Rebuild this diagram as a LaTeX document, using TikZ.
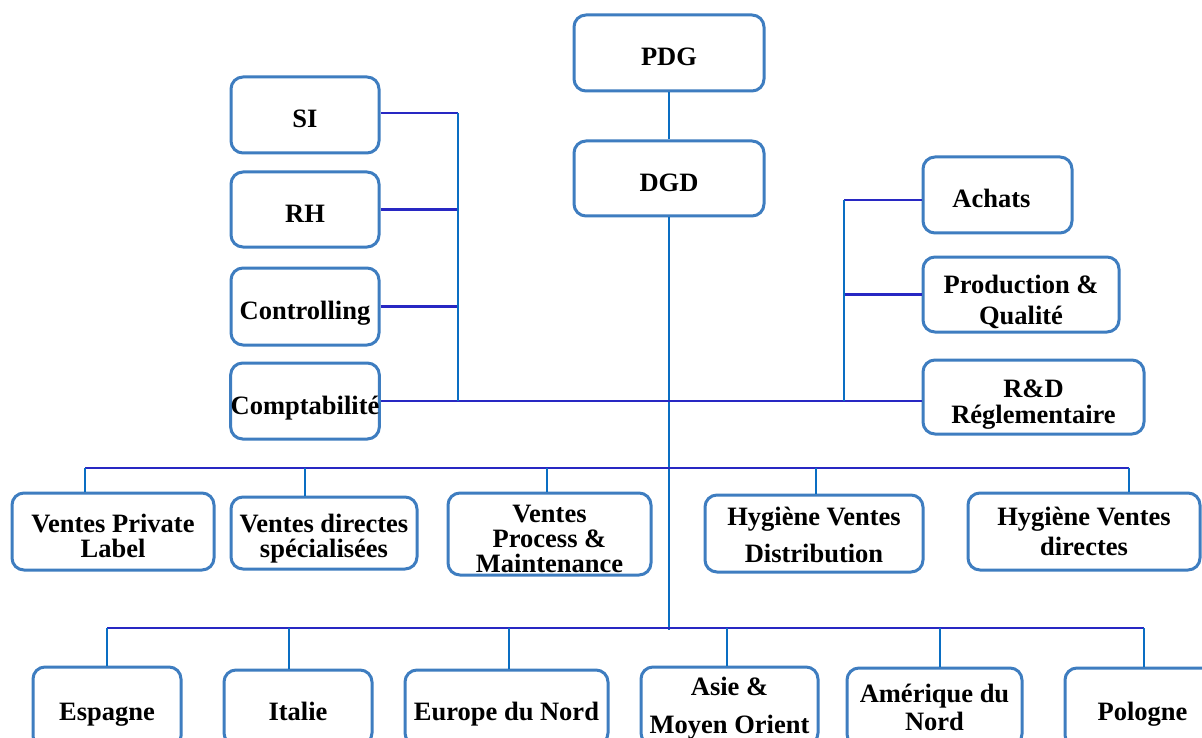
\documentclass[tikz,border=0pt]{standalone}
\usepackage{fontspec}
\setmainfont{Liberation Serif}
\definecolor{boxblue}{RGB}{62,125,192}
\definecolor{busblue}{RGB}{40,40,195}
\definecolor{stemblue}{RGB}{10,110,195}
\tikzset{
  unit/.style={draw=boxblue, line width=3pt, rounded corners=12pt, fill=white,
    inner sep=0pt, align=center, text height=26pt, text depth=0pt,
    font=\bfseries\fontsize{26.5}{25}\selectfont},
  hbar/.style={draw=busblue, line width=2.7pt},
  vbar/.style={draw=stemblue, line width=2.5pt},
}
\begin{document}
\begin{tikzpicture}[x=1pt,y=-1pt]
\clip (0,0) rectangle (1202,738);
\fill[white] (0,0) rectangle (1202,738);

% top of the hierarchy
\node[unit, minimum width=190, minimum height=76] (pdg) at (669,53) {PDG};
\node[unit, minimum width=190, minimum height=75] (dgd) at (669,178.5) {DGD};

% support functions on the left
\node[unit, minimum width=148, minimum height=76] (si) at (305,115) {SI};
\node[unit, minimum width=148, minimum height=75] (rh) at (305,209.5) {RH};
\node[unit, minimum width=148, minimum height=77] (ctrl) at (305,306.5) {Controlling};
\node[unit, minimum width=148, minimum height=76] (compta) at (305,401) {Comptabilité};

% operations on the right
\node[unit, minimum width=149, minimum height=76] (achats) at (997.5,195) {Achats\hspace*{12pt}};
\node[unit, minimum width=196, minimum height=75, text height=59pt] (prod) at (1021,294.5) {Production \&\\[6pt]Qualité};
\node[unit, minimum width=221, minimum height=74, text height=52pt] (rd) at (1033.5,397) {R\&D\\[1pt]Réglementaire};

% sales divisions
\node[unit, minimum width=202, minimum height=77, text height=51pt] (vpl) at (113,531.5) {Ventes Private\\Label};
\node[unit, minimum width=186, minimum height=72, text height=48pt] (vds) at (324,533) {Ventes directes\\spécialisées};
\node[unit, minimum width=203, minimum height=82, text height=76pt] (vpm) at (549.5,534) {Ventes\\Process \&\\Maintenance};
\node[unit, minimum width=218, minimum height=77, text height=57pt] (hvd) at (814,533.5) {Hygiène Ventes\\[12pt]Distribution};
\node[unit, minimum width=232, minimum height=77, text height=47pt] (hvdir) at (1084,531.5) {Hygiène Ventes\\[5pt]directes};

% regions
\node[unit, minimum width=148, minimum height=81] (esp) at (107,707.5) {Espagne};
\node[unit, minimum width=148, minimum height=75] (ita) at (298,707.5) {Italie};
\node[unit, minimum width=203, minimum height=75] (eur) at (506.5,707.5) {Europe du Nord};
\node[unit, minimum width=177, minimum height=78, text height=54pt] (asie) at (729.5,706) {Asie \&\\[13pt]Moyen Orient};
\node[unit, minimum width=175, minimum height=78, text height=46pt] (amer) at (934.5,707) {Amérique du\\[3pt]Nord};
\node[unit, minimum width=155, minimum height=79] (pol) at (1142.5,707.5) {Pologne};

% main trunk
\coordinate (trunkend) at (669,630);
\draw[vbar] (pdg) -- (dgd);
\draw[vbar] (dgd.south) -- (trunkend);

% left branch
\coordinate (lstem) at (458,113);
\draw[hbar] (lstem) -- (lstem -| si.east);
\draw[hbar] (rh.east) -- (rh.east -| lstem);
\draw[hbar] (ctrl.east) -- (ctrl.east -| lstem);
\draw[hbar] (compta.east) -- (compta.east -| rd.west);
\draw[vbar] (lstem) -- (compta.east -| lstem);

% right branch
\coordinate (rstem) at (844,200);
\draw[hbar] (rstem) -- (rstem -| achats.west);
\draw[hbar] (prod.west) -- (prod.west -| rstem);
\draw[vbar] (rstem) -- (compta.east -| rstem);

% sales bus
\coordinate (m1) at (85,468);
\coordinate (m2) at (305,468);
\coordinate (m3) at (547,468);
\coordinate (m4) at (816,468);
\coordinate (m5) at (1129,468);
\draw[hbar] (m1) -- (m5);
\draw[vbar] (m1) -- (m1 |- vpl.north);
\draw[vbar] (m2) -- (m2 |- vds.north);
\draw[vbar] (m3) -- (m3 |- vpm.north);
\draw[vbar] (m4) -- (m4 |- hvd.north);
\draw[vbar] (m5) -- (m5 |- hvdir.north);

% regional bus
\coordinate (r1) at (107,628);
\coordinate (r2) at (289,628);
\coordinate (r3) at (509,628);
\coordinate (r4) at (727,628);
\coordinate (r5) at (940,628);
\coordinate (r6) at (1144,628);
\draw[hbar] (r1) -- (r6);
\draw[vbar] (r1) -- (r1 |- esp.north);
\draw[vbar] (r2) -- (r2 |- ita.north);
\draw[vbar] (r3) -- (r3 |- eur.north);
\draw[vbar] (r4) -- (r4 |- asie.north);
\draw[vbar] (r5) -- (r5 |- amer.north);
\draw[vbar] (r6) -- (r6 |- pol.north);
\end{tikzpicture}
\end{document}
